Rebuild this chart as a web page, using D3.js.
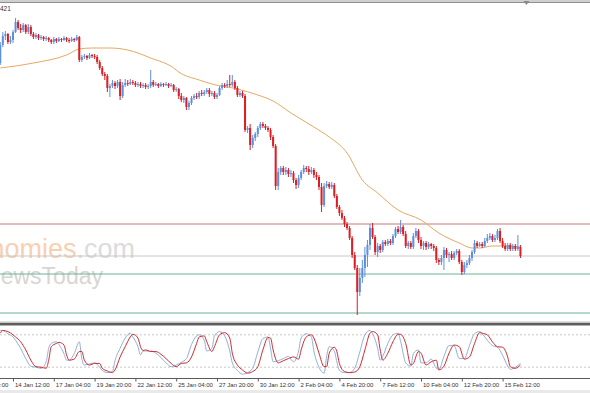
<!DOCTYPE html>
<html>
<head>
<meta charset="utf-8">
<script src="https://cdn.jsdelivr.net/npm/d3@7"></script>
<style>
  body { margin: 0; background: #fff; }
  svg { display: block; font-family: "Liberation Sans", Arial, sans-serif; }
</style>
</head>
<body>
<div id="chart"></div>
<script>
//H4 candles, one per bar index 0..204
var open = [1254,1272,1281,1283,1275,1277,1285,1295,1289,1287,1292,1285,1290,1283,1280,1282,1279,1280,1278,1279,
  1277,1275,1278,1276,1278,1277,1279,1277,1276,1278,1277,1280,1257,1260,1261,1259,1262,1261,1260,1255,
  1249,1243,1241,1229,1231,1234,1231,1235,1221,1232,1234,1233,1235,1234,1232,1233,1231,1232,1230,1231,
  1235,1232,1233,1231,1233,1232,1233,1231,1232,1227,1228,1221,1217,1219,1210,1214,1219,1221,1220,1224,
  1223,1225,1227,1223,1224,1220,1222,1229,1232,1231,1233,1232,1235,1229,1222,1224,1221,1187,1189,1172,
  1179,1183,1189,1193,1191,1189,1187,1180,1171,1131,1145,1149,1145,1147,1143,1144,1137,1132,1139,1145,
  1149,1148,1145,1147,1142,1140,1130,1112,1131,1133,1130,1132,1121,1110,1104,1099,1093,1089,1079,1062,
  1049,1025,1039,1049,1062,1072,1089,1080,1065,1071,1067,1075,1073,1076,1074,1081,1088,1085,1090,1083,
  1071,1074,1070,1081,1086,1077,1071,1074,1070,1073,1071,1069,1057,1055,1059,1067,1062,1063,1059,1064,
  1066,1055,1045,1052,1054,1059,1065,1074,1071,1073,1071,1076,1079,1081,1077,1079,1086,1076,1071,1068,
  1072,1068,1071,1068,1070];
var high = [1275,1285,1286,1284,1281,1287,1299,1297,1293,1294,1293,1293,1292,1285,1284,1283,1282,1281,1281,1280,
  1278,1280,1279,1280,1279,1281,1280,1279,1280,1279,1282,1281,1262,1263,1262,1264,1263,1263,1262,1257,
  1251,1245,1243,1233,1237,1236,1237,1238,1235,1238,1237,1238,1237,1236,1235,1235,1234,1234,1233,1247,
  1237,1235,1234,1235,1234,1235,1234,1234,1233,1230,1229,1224,1221,1220,1216,1221,1223,1224,1226,1227,
  1227,1229,1229,1226,1226,1224,1231,1234,1234,1237,1242,1242,1237,1231,1226,1226,1223,1191,1193,1182,
  1185,1191,1195,1195,1193,1191,1189,1182,1173,1149,1151,1151,1150,1149,1147,1146,1139,1142,1147,1152,
  1151,1151,1150,1149,1145,1142,1134,1134,1136,1135,1135,1134,1123,1112,1107,1101,1095,1091,1081,1065,
  1052,1049,1057,1070,1077,1093,1094,1082,1074,1073,1077,1077,1078,1078,1083,1090,1091,1097,1092,1086,
  1076,1076,1084,1089,1088,1080,1076,1076,1075,1074,1073,1071,1059,1062,1070,1069,1065,1066,1066,1068,
  1068,1057,1055,1057,1062,1067,1077,1076,1075,1075,1079,1083,1084,1083,1082,1088,1089,1079,1074,1074,
  1074,1073,1073,1082,1072];
var low = [1252,1270,1277,1273,1273,1274,1284,1287,1284,1285,1283,1283,1281,1278,1278,1277,1277,1276,1276,1275,
  1273,1273,1274,1275,1275,1276,1275,1274,1275,1275,1276,1255,1255,1258,1257,1258,1259,1258,1253,1247,
  1241,1237,1225,1220,1229,1228,1229,1217,1219,1230,1231,1232,1232,1230,1230,1229,1229,1228,1228,1229,
  1230,1231,1229,1230,1230,1231,1229,1230,1225,1225,1218,1215,1214,1207,1207,1212,1217,1218,1218,1221,
  1221,1223,1220,1221,1218,1218,1221,1227,1229,1229,1230,1230,1227,1220,1220,1219,1185,1184,1167,1169,
  1176,1180,1187,1189,1187,1185,1177,1169,1127,1127,1142,1142,1142,1140,1140,1134,1128,1129,1137,1143,
  1145,1142,1143,1139,1137,1127,1105,1110,1129,1128,1128,1119,1108,1101,1097,1090,1087,1077,1059,1047,
  1002,1021,1034,1040,1050,1067,1078,1062,1060,1064,1065,1071,1071,1072,1072,1079,1083,1083,1081,1069,
  1068,1068,1068,1079,1074,1068,1067,1067,1068,1068,1066,1054,1052,1052,1047,1059,1055,1057,1057,1062,
  1053,1042,1043,1049,1052,1056,1063,1069,1070,1069,1070,1074,1077,1075,1075,1077,1074,1069,1066,1066,
  1066,1066,1066,1066,1059];
var closep = [1272,1281,1283,1275,1277,1285,1295,1289,1287,1292,1285,1290,1283,1280,1282,1279,1280,1278,1279,1277,
  1275,1278,1276,1278,1277,1279,1277,1276,1278,1277,1280,1257,1260,1261,1259,1262,1261,1260,1255,1249,
  1243,1241,1229,1231,1234,1231,1235,1221,1232,1234,1233,1235,1234,1232,1233,1231,1232,1230,1231,1235,
  1232,1233,1231,1233,1232,1233,1231,1232,1227,1228,1221,1217,1219,1210,1214,1219,1221,1220,1224,1223,
  1225,1227,1223,1224,1220,1222,1229,1232,1231,1233,1232,1235,1229,1222,1224,1221,1187,1189,1172,1179,
  1183,1189,1193,1191,1189,1187,1180,1171,1131,1145,1149,1145,1147,1143,1144,1137,1132,1139,1145,1149,
  1148,1145,1147,1142,1140,1130,1112,1131,1133,1130,1132,1121,1110,1104,1099,1093,1089,1079,1062,1049,
  1025,1039,1049,1062,1072,1089,1080,1065,1071,1067,1075,1073,1076,1074,1081,1088,1085,1090,1083,1071,
  1074,1070,1081,1086,1077,1071,1074,1070,1073,1071,1069,1057,1055,1059,1067,1062,1063,1059,1064,1066,
  1055,1045,1052,1054,1059,1065,1074,1071,1073,1071,1076,1079,1081,1077,1079,1086,1076,1071,1068,1072,
  1068,1071,1068,1070,1061];

//moving average, read at a few bars
var maBars = [0,13,26,31,36,43,50,59,68,70,78,83,93,101,107,114,123,129,136,142,148,156,165,172,180,185,188,193,199,204];
var maValues = [1249,1254,1262,1268,1269,1269,1267,1259,1249,1245,1237,1233,1228,1222,1216,1204,1190,1180,1164,1137,
  1124,1107,1097,1084,1074,1069,1069,1071,1071,1070];

//horizontal levels
var resistance = [1093];
var supports = [1043, 1004];

//stochastic, read at these bars
var stochBars = [0,1,3,5,6,8,10,12,14,16,18,19,20,22,23,25,26,27,29,31,32,33,35,37,39,40,42,44,45,47,
  49,51,52,54,55,56,57,59,61,63,65,67,69,71,73,75,77,78,80,81,83,84,86,88,90,91,93,95,97,99,
  101,103,105,106,107,109,111,113,115,117,118,120,122,123,125,127,128,129,131,132,133,135,137,139,141,143,145,146,148,149,
  150,152,154,156,157,159,161,162,164,165,167,169,171,172,174,176,178,180,182,184,186,188,189,191,193,195,197,199,200,202,204];
var stochK = [88,88,82,76,70,55,36,22,20,18,30,55,64,67,62,45,33,33,45,67,35,24,26,28,20,14,10,12,32,55,
  74,83,76,58,43,50,50,50,46,38,28,21,24,29,36,62,78,80,70,50,55,78,86,78,50,28,14,7,10,18,
  48,73,76,55,30,32,36,40,30,50,74,82,76,50,20,9,40,58,50,30,14,10,10,18,48,80,88,82,55,33,
  40,64,80,83,68,28,22,45,52,28,28,35,18,16,40,60,60,36,36,60,82,86,82,70,60,57,42,22,16,20,27];
var stochD = [83,88,86,80,76,67,52,33,21,20,18,33,58,64,66,61,43,33,35,49,49,33,24,27,27,18,13,10,15,39,
  58,76,81,74,58,51,52,49,49,44,36,27,21,27,28,39,64,76,78,67,49,58,80,84,74,46,24,15,9,12,
  21,52,75,74,52,28,32,36,39,35,52,76,80,74,46,21,21,46,57,49,27,12,10,11,21,52,83,86,80,52,
  33,46,67,81,81,64,24,27,49,46,24,30,33,15,22,46,61,58,35,39,64,84,83,80,67,58,57,39,21,18,24];
var stochLevels = [80, 20];

//time axis
var tickBars = [-11,5,21,37,53,69,85,101,117,133,149,165,181,197];
var tickLabels = ["11 Jan 20:00","14 Jan 12:00","17 Jan 04:00","19 Jan 20:00","22 Jan 12:00","25 Jan 04:00",
  "27 Jan 20:00","30 Jan 12:00","2 Feb 04:00","4 Feb 20:00","7 Feb 12:00","10 Feb 04:00","12 Feb 20:00","15 Feb 12:00"];

var width = 590, height = 393;
var upColor = "#5d8fdf", downColor = "#dc1e22";

var svg = d3.select("#chart").append("svg")
  .attr("width", width)
  .attr("height", height);

var xScale = d3.scaleLinear().domain([0, 204]).range([0.25, 520.45]);
var yScale = d3.scaleLinear().domain([1000, 1314]).range([317, 3]);
var stochScale = d3.scaleLinear().domain([0, 100]).range([378, 324]);

svg.append("rect").attr("width", width).attr("height", height).attr("fill", "#fff");

// top frame
svg.append("rect").attr("x", 0).attr("y", 0).attr("width", width).attr("height", 2).attr("fill", "#cfcfcf");
svg.append("line").attr("x1", 0).attr("x2", width).attr("y1", 2.5).attr("y2", 2.5).attr("stroke", "#8f8f8f");
var shiftX = xScale(204) + 6;
svg.append("path")
  .attr("d", "M" + (shiftX - 3) + ",1L" + (shiftX + 3) + ",1L" + shiftX + ",5Z")
  .attr("fill", "#8a8a8a");
svg.append("text").attr("x", 0).attr("y", 11).attr("font-size", "6.5px").attr("fill", "#333").text("421");

// watermark
var wm = svg.append("text")
  .attr("x", 135).attr("y", 258)
  .attr("text-anchor", "end")
  .attr("font-size", "27px");
wm.append("tspan").attr("fill", "#f7d0b2").text("Economies");
wm.append("tspan").attr("fill", "#dcdcdc").text(".com");
svg.append("text")
  .attr("x", 103).attr("y", 284)
  .attr("text-anchor", "end")
  .attr("font-size", "23px")
  .attr("fill", "#d6d6d6")
  .text("NewsToday");

// levels
svg.append("g").selectAll("line")
  .data(resistance).enter()
  .append("line")
  .attr("x1", 0).attr("x2", width)
  .attr("y1", function(d) { return yScale(d); })
  .attr("y2", function(d) { return yScale(d); })
  .attr("stroke", "#c27a80");

svg.append("g").selectAll("line")
  .data(supports).enter()
  .append("line")
  .attr("x1", 0).attr("x2", width)
  .attr("y1", function(d) { return yScale(d); })
  .attr("y2", function(d) { return yScale(d); })
  .attr("stroke", "#6fb194");

// bid line at last close
var lastClose = closep[closep.length - 1];
svg.append("line")
  .attr("x1", 0).attr("x2", width)
  .attr("y1", yScale(lastClose)).attr("y2", yScale(lastClose))
  .attr("stroke", "#c8c8c8");

// moving average
var maLine = d3.line()
  .x(function(d, i) { return xScale(maBars[i]); })
  .y(function(d) { return yScale(d); })
  .curve(d3.curveMonotoneX);

svg.append("path")
  .datum(maValues)
  .attr("d", maLine)
  .attr("fill", "none")
  .attr("stroke", "#e6a862")
  .attr("stroke-width", 1);

// candles
var candles = open.map(function(o, i) {
  return { i: i, o: o, h: high[i], l: low[i], c: closep[i] };
});

var cg = svg.append("g").attr("class", "candles");

cg.selectAll("line")
  .data(candles).enter()
  .append("line")
  .attr("x1", function(d) { return xScale(d.i); })
  .attr("x2", function(d) { return xScale(d.i); })
  .attr("y1", function(d) { return yScale(d.h); })
  .attr("y2", function(d) { return yScale(d.l); })
  .attr("stroke", function(d) { return d.c >= d.o ? upColor : downColor; })
  .attr("stroke-width", 1);

cg.selectAll("rect")
  .data(candles).enter()
  .append("rect")
  .attr("x", function(d) { return xScale(d.i) - 1; })
  .attr("width", 2)
  .attr("y", function(d) { return yScale(Math.max(d.o, d.c)); })
  .attr("height", function(d) { return Math.max(1, Math.abs(yScale(d.o) - yScale(d.c))); })
  .attr("fill", function(d) { return d.c >= d.o ? upColor : downColor; });

// panel separator
svg.append("rect").attr("x", 0).attr("y", 321.5).attr("width", width).attr("height", 1.5).attr("fill", "#c4c4c4");
svg.append("rect").attr("x", 0).attr("y", 323).attr("width", width).attr("height", 2.5).attr("fill", "#5e5e5e");

// stochastic
svg.append("g").selectAll("line")
  .data(stochLevels).enter()
  .append("line")
  .attr("x1", 0).attr("x2", width)
  .attr("y1", function(d) { return stochScale(d); })
  .attr("y2", function(d) { return stochScale(d); })
  .attr("stroke", "#c9c9c9")
  .attr("stroke-dasharray", "2,2");

var stochLine = d3.line()
  .x(function(d, i) { return xScale(stochBars[i]); })
  .y(function(d) { return stochScale(d); })
  .curve(d3.curveMonotoneX);

svg.append("path")
  .datum(stochK)
  .attr("d", stochLine)
  .attr("fill", "none")
  .attr("stroke", "#8fb0dc")
  .attr("stroke-width", 1);

svg.append("path")
  .datum(stochD)
  .attr("d", stochLine)
  .attr("fill", "none")
  .attr("stroke", "#d22a2e")
  .attr("stroke-width", 1);

// time axis
svg.append("line")
  .attr("x1", 0).attr("x2", width)
  .attr("y1", 378.5).attr("y2", 378.5)
  .attr("stroke", "#5a5a5a");

var xAxis = d3.axisBottom(xScale)
  .tickValues(tickBars)
  .tickFormat(function(d, i) { return tickLabels[i]; })
  .tickSize(3)
  .tickSizeOuter(0);

var ax = svg.append("g")
  .attr("transform", "translate(0,378.5)")
  .call(xAxis);
ax.select(".domain").remove();
ax.selectAll("line").attr("stroke", "#5a5a5a");
ax.selectAll("text")
  .attr("text-anchor", "start")
  .attr("x", 1.5)
  .attr("y", 8.5)
  .attr("dy", 0)
  .attr("fill", "#333")
  .style("font-size", "6px")
  .style("font-family", "'Liberation Sans', Arial, sans-serif");

// bottom strip
svg.append("rect").attr("x", 0).attr("y", 390).attr("width", width).attr("height", 3).attr("fill", "#e9e9e9");
</script>
</body>
</html>
